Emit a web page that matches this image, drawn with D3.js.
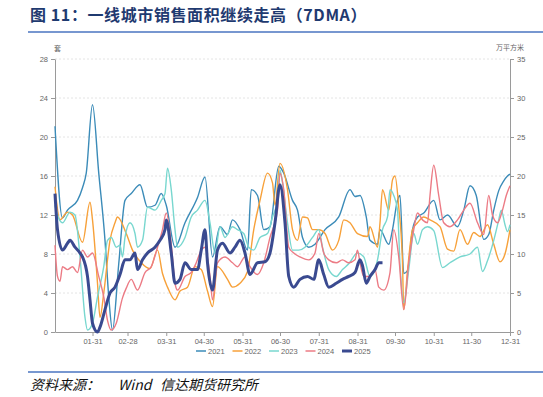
<!DOCTYPE html>
<html>
<head>
<meta charset="utf-8">
<script src="https://cdn.jsdelivr.net/npm/d3@7"></script>
<style>
  body { margin: 0; background: #fff; }
  svg { display: block; font-family: "Noto Sans CJK SC", "Liberation Sans", sans-serif; }
</style>
</head>
<body>
<svg width="543" height="397"></svg>
<script>
// x axis tick labels
var monthTicks = ["01-31", "02-28", "03-31", "04-30", "05-31", "06-30", "07-31", "08-31", "09-30", "10-31", "11-30", "12-31"];
var leftTicks = [0, 4, 8, 12, 16, 20, 24, 28];
var rightTicks = [0, 5, 10, 15, 20, 25, 30, 35];
var years = ["2021", "2022", "2023", "2024", "2025"];

// series, [MM-DD, value]
var d2021 = [["01-01",21.1],["01-07",11.7],["01-11",12.5],["01-19",13.5],["01-23",14.8],["01-26",16.3],["01-31",23.3],["02-05",16.3],["02-10",9.4],["02-13",3.6],["02-16",0.2],["02-21",7],["02-26",13.5],["03-03",14.2],["03-10",15.1],["03-16",12.8],["03-22",13],["03-27",14.2],["03-31",13],["04-07",8.7],["04-15",11.2],["04-25",13.8],["05-01",15.9],["05-07",7.7],["05-13",10.8],["05-19",10],["05-23",11.5],["05-29",10.5],["06-04",8.4],["06-07",14.6],["06-12",14],["06-17",10.5],["06-22",10.8],["06-29",17],["07-03",16.3],["07-10",13.5],["07-14",12.5],["07-18",9.7],["07-23",8.7],["07-28",9],["08-05",10.5],["08-16",11.8],["08-25",14.6],["08-29",13.9],["09-02",14],["09-07",11.8],["09-10",9.4],["09-16",9],["09-18",10.5],["09-25",9],["09-28",10.5],["10-02",13.5],["10-04",14],["10-07",6],["10-10",6.3],["10-14",10.5],["10-18",11.8],["10-23",12.2],["10-31",13.5],["11-05",11.5],["11-11",12],["11-19",10.8],["11-24",12.5],["11-29",15],["12-04",14],["12-10",9.5],["12-14",10],["12-18",12.5],["12-22",14.5],["12-26",15.5],["12-29",16],["12-31",16.2]];
var d2022 = [["01-01",14.9],["01-05",11.5],["01-11",12.3],["01-15",12],["01-23",9.2],["01-29",13.3],["01-31",11.5],["02-04",5],["02-06",1.5],["02-09",4],["02-14",9.4],["02-18",11.2],["02-20",11.8],["02-27",10.1],["03-04",8.4],["03-11",7.1],["03-18",6.5],["03-24",8.4],["03-28",6],["04-01",4.6],["04-07",3.3],["04-11",4.2],["04-17",4.6],["04-23",6.7],["04-28",6.4],["05-03",4.2],["05-07",2.6],["05-11",6.7],["05-19",5.4],["05-23",4.6],["05-29",5],["06-04",6.2],["06-09",10.5],["06-14",13.5],["06-20",16.3],["06-24",15.3],["06-26",13],["06-30",17.3],["07-06",14.6],["07-10",10.5],["07-14",9.4],["07-18",11.8],["07-22",11.7],["07-26",10.5],["07-31",10.5],["08-05",10.1],["08-11",8.4],["08-16",9.4],["08-20",11.5],["08-25",11.2],["08-31",10.1],["09-08",9.8],["09-10",10.8],["09-16",8.7],["09-18",11.2],["09-20",14.6],["09-25",12.5],["09-28",15.6],["09-30",16],["10-03",12.8],["10-06",7.1],["10-07",2.3],["10-10",6.3],["10-14",10.5],["10-18",11.2],["10-23",11.8],["10-28",11.5],["11-05",10.8],["11-11",8.5],["11-16",8.3],["11-21",10.5],["11-27",9],["12-02",10.2],["12-07",9.8],["12-13",11],["12-18",9],["12-23",7.2],["12-27",8],["12-31",10.5]];
var d2023 = [["01-01",13],["01-03",12],["01-07",11.2],["01-13",12.3],["01-17",12],["01-21",7.7],["01-25",1.5],["01-27",0.2],["01-31",0.9],["02-04",3.6],["02-09",6.7],["02-12",9.4],["02-15",9.7],["02-19",8.7],["02-22",8.9],["02-24",7.7],["02-26",9.7],["03-02",11.2],["03-06",10.1],["03-08",8.7],["03-12",9.4],["03-16",12.8],["03-22",12.5],["03-27",13.5],["03-30",14.2],["04-01",16.8],["04-04",14.6],["04-07",10.5],["04-09",8.7],["04-15",9.7],["04-20",11.8],["04-25",12.5],["05-01",13.5],["05-05",11.2],["05-09",8.1],["05-13",10.8],["05-17",9.7],["05-23",10.8],["05-27",10.5],["06-01",10.1],["06-05",8.7],["06-09",8.4],["06-14",9.7],["06-20",10.1],["06-24",11.8],["06-28",13.5],["06-30",16.6],["07-02",15.3],["07-06",11.2],["07-10",8.4],["07-15",8.4],["07-20",8.7],["07-26",9.7],["07-31",10.5],["08-03",8.7],["08-08",6.4],["08-14",5.7],["08-19",6.4],["08-24",7],["08-31",8.1],["09-05",7.7],["09-10",5.7],["09-16",7.4],["09-20",10.5],["09-24",11.8],["09-26",14.6],["09-29",14],["10-02",12.5],["10-04",7],["10-07",3],["10-11",6.4],["10-15",10.1],["10-18",9],["10-22",10.5],["10-26",10.8],["10-31",10.4],["11-07",6.6],["11-13",7.1],["11-21",7.7],["11-29",8],["12-05",8.7],["12-09",6.2],["12-13",7.3],["12-18",9.4],["12-22",11.5],["12-24",12.5],["12-27",11],["12-29",10.3],["12-31",11]];
var d2024 = [["01-01",8.9],["01-03",5.7],["01-05",5.2],["01-07",6.7],["01-11",6.4],["01-15",6.7],["01-19",6.1],["01-23",8.4],["01-27",7.7],["01-31",8.1],["02-05",5.7],["02-09",3.6],["02-12",1.2],["02-15",0.2],["02-19",0.9],["02-24",3.5],["02-27",4.5],["03-03",5.4],["03-08",4.3],["03-14",6.1],["03-19",6.7],["03-24",8.7],["03-28",10.5],["03-31",12.2],["04-04",9],["04-07",5],["04-09",4.3],["04-15",5.7],["04-20",6.1],["04-24",7.1],["04-28",8.4],["05-01",8.7],["05-05",5.7],["05-07",3.3],["05-11",7.1],["05-17",7.7],["05-23",7.1],["05-27",6.7],["06-02",7.7],["06-06",6.7],["06-12",5.9],["06-17",7.1],["06-22",9.7],["06-28",12.5],["06-30",16.3],["07-03",14.6],["07-07",8.7],["07-11",8.1],["07-16",7.7],["07-23",7.4],["07-28",8.1],["07-31",10.1],["08-04",8.1],["08-08",7.4],["08-14",7.1],["08-19",7.4],["08-24",7.1],["08-29",7.4],["08-31",8.4],["09-02",7.1],["09-05",5.7],["09-10",5.7],["09-14",6.4],["09-17",4.6],["09-21",4.3],["09-26",6.1],["09-29",10.5],["10-03",7.7],["10-07",2.3],["10-11",7.1],["10-15",10.5],["10-18",12.2],["10-22",11.5],["10-26",11.2],["10-28",14],["10-31",17.1],["11-04",14],["11-08",11.2],["11-13",10.8],["11-19",11.5],["11-24",12.5],["11-29",13.2],["12-05",11.2],["12-10",10],["12-14",14],["12-17",12],["12-21",11.2],["12-25",12.5],["12-28",14],["12-31",15]];
var d2025 = [["01-01",14.2],["01-03",10.5],["01-07",8.4],["01-11",9.1],["01-13",9.4],["01-17",8.7],["01-21",8.1],["01-23",7.7],["01-27",5.7],["01-29",3.3],["01-31",0.9],["02-04",0],["02-06",0.5],["02-10",2.3],["02-14",4],["02-18",4.6],["02-22",5.9],["02-26",7.4],["03-02",7.4],["03-06",8.1],["03-08",6.4],["03-12",7.4],["03-16",8.1],["03-22",8.7],["03-26",9.4],["03-30",10.5],["03-31",11.5],["04-04",8.1],["04-07",5],["04-11",5.4],["04-15",7.1],["04-20",6.4],["04-25",6.4],["04-28",8.4],["05-01",10.5],["05-03",7.1],["05-07",4.3],["05-11",8.4],["05-15",9.1],["05-21",8.1],["05-25",8.7],["05-29",9.4],["06-02",8.1],["06-06",5.9],["06-12",7.1],["06-18",7.2],["06-22",8.1],["06-26",11.2],["06-30",15.1],["07-04",11.2],["07-07",5.7],["07-11",4.6],["07-16",5.4],["07-22",5.7],["07-27",5.4],["07-31",7.4],["08-04",5.9],["08-08",4.6],["08-14",5],["08-19",5.4],["08-24",5.7],["08-29",6.1],["09-02",7.4],["09-04",6.8],["09-07",5],["09-10",5.7],["09-14",6.4],["09-17",7.1],["09-20",7.1]];

var colors = ["#3b8bb8", "#f7a13a", "#78d7cf", "#ec7b85", "#3a4a90"];
var widths = [1.4, 1.4, 1.4, 1.4, 3];

var svg = d3.select("svg");
var margin = {top: 59, right: 33, bottom: 65, left: 55};
var width = 543 - margin.left - margin.right;
var height = 397 - margin.top - margin.bottom;

var parseDay = d3.timeParse("%m-%d");

// title + rules
svg.append("text")
  .attr("x", 30).attr("y", 21)
  .attr("font-size", 16).attr("font-weight", "bold")
  .attr("letter-spacing", 0.6)
  .attr("fill", "#1f3a70")
  .text("图 11：一线城市销售面积继续走高（7DMA）");
svg.append("line").attr("x1", 28).attr("x2", 543).attr("y1", 32).attr("y2", 32)
  .attr("stroke", "#4a74c0").attr("stroke-width", 1.5);
svg.append("line").attr("x1", 28).attr("x2", 543).attr("y1", 372).attr("y2", 372)
  .attr("stroke", "#4a74c0").attr("stroke-width", 1.5);
svg.append("text")
  .attr("x", 30).attr("y", 390)
  .attr("font-size", 14).attr("font-style", "italic").attr("fill", "#111")
  .text("资料来源：");
svg.append("text")
  .attr("x", 118).attr("y", 390)
  .attr("font-size", 14).attr("font-style", "italic").attr("fill", "#111")
  .text("Wind");
svg.append("text")
  .attr("x", 160).attr("y", 390)
  .attr("font-size", 14).attr("font-style", "italic").attr("fill", "#111")
  .text("信达期货研究所");

var g = svg.append("g").attr("transform", "translate(" + margin.left + "," + margin.top + ")");

var x = d3.scaleTime()
  .domain([parseDay("01-01"), parseDay("12-31")])
  .range([0, width]);
var y = d3.scaleLinear().domain([0, 28]).range([height, 0]);
var yRight = d3.scaleLinear().domain([0, 35]).range([height, 0]);

// grid
g.selectAll(".grid").data(leftTicks.slice(1)).enter().append("line")
  .attr("x1", 0).attr("x2", width)
  .attr("y1", function(d) { return y(d); }).attr("y2", function(d) { return y(d); })
  .attr("stroke", "#e4e4e4").attr("stroke-dasharray", "2,2");

var xAxis = g.append("g")
  .attr("transform", "translate(0," + height + ")")
  .call(d3.axisBottom(x).tickValues(monthTicks.map(parseDay)).tickFormat(d3.timeFormat("%m-%d")).tickSize(4).tickSizeOuter(0));
var yAxis = g.append("g").call(d3.axisLeft(y).tickValues(leftTicks).tickSize(4).tickSizeOuter(0));
var yAxisR = g.append("g").attr("transform", "translate(" + width + ",0)")
  .call(d3.axisRight(yRight).tickValues(rightTicks).tickSize(4).tickSizeOuter(0));

[xAxis, yAxis, yAxisR].forEach(function(a) {
  a.select(".domain").attr("stroke", "#9a9a9a");
  a.selectAll(".tick line").attr("stroke", "#9a9a9a");
  a.selectAll(".tick text").attr("fill", "#666").attr("font-size", 7.5).attr("font-family", "Liberation Sans, sans-serif");
});

g.append("text").attr("x", -1).attr("y", -8).attr("font-size", 7).attr("fill", "#666").text("套");
g.append("text").attr("x", width).attr("y", -9).attr("text-anchor", "middle")
  .attr("font-size", 7).attr("fill", "#666").text("万平方米");

var line = d3.line()
  .curve(d3.curveMonotoneX)
  .x(function(d) { return x(parseDay(d[0])); })
  .y(function(d) { return y(d[1]); });

var series = [d2021, d2022, d2023, d2024, d2025];
series.forEach(function(s, i) {
  g.append("path")
    .datum(s)
    .attr("fill", "none")
    .attr("stroke", colors[i])
    .attr("stroke-width", widths[i])
    .attr("stroke-linejoin", "round")
    .attr("d", line);
});

// legend
var legend = svg.append("g").attr("transform", "translate(196,351)");
years.forEach(function(yr, i) {
  var item = legend.append("g").attr("transform", "translate(" + (i * 36.5) + ",0)");
  item.append("line").attr("x1", 0).attr("x2", 10).attr("y1", 0).attr("y2", 0)
    .attr("stroke", colors[i]).attr("stroke-width", i == 4 ? 3 : 1.5);
  item.append("text").attr("x", 12).attr("y", 3).attr("font-size", 7.5)
    .attr("fill", "#666").attr("font-family", "Liberation Sans, sans-serif").text(yr);
});
</script>
</body>
</html>
